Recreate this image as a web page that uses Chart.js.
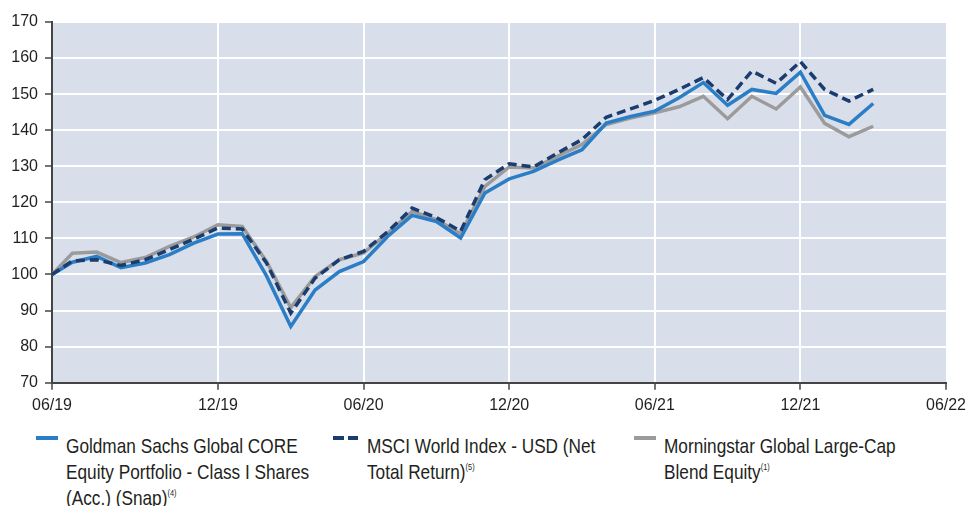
<!DOCTYPE html>
<html>
<head>
<meta charset="utf-8">
<script src="https://cdn.jsdelivr.net/npm/chart.js@4.4.1/dist/chart.umd.min.js"></script>
<style>
  html, body { margin: 0; padding: 0; background: #fff; }
  #wrap { position: relative; width: 967px; height: 506px; overflow: hidden; }
  #chart { position: absolute; left: 0; top: 0; }
  .legend-text {
    position: absolute;
    font-family: 'Liberation Sans', Arial, sans-serif;
    font-size: 21px;
    line-height: 26px;
    color: #231f20;
    white-space: nowrap;
    transform: scaleX(0.82);
    transform-origin: 0 0;
  }
  .legend-text sup { font-size: 9px; vertical-align: 9px; line-height: 0; }
  .swatch { position: absolute; height: 4px; }
</style>
</head>
<body>
<div id="wrap">
  <canvas id="chart" width="967" height="420"></canvas>

  <div class="swatch" style="left:36px; top:436px; width:22px; background:#2b7ec5;"></div>
  <div class="legend-text" style="left:66px; top:433px;">Goldman Sachs Global CORE<br>Equity Portfolio - Class I Shares<br>(Acc.) (Snap)<sup>(4)</sup></div>

  <div class="swatch" style="left:333px; top:436px; width:11px; background:#1a3c6e;"></div>
  <div class="swatch" style="left:348px; top:436px; width:10px; background:#1a3c6e;"></div>
  <div class="legend-text" style="left:367px; top:433px;">MSCI World Index - USD (Net<br>Total Return)<sup>(5)</sup></div>

  <div class="swatch" style="left:634px; top:436px; width:22px; background:#9b9b9b;"></div>
  <div class="legend-text" style="left:664px; top:433px;">Morningstar Global Large-Cap<br>Blend Equity<sup>(1)</sup></div>
</div>

<script>
// x = months after end of June 2019 (first point is the start date, a bit earlier)
const months = [-0.84, 0, 1, 2, 3, 4, 5, 6, 7, 8, 9, 10, 11, 12, 13, 14, 15, 16, 17,
                18, 19, 20, 21, 22, 23, 24, 25, 26, 27, 28, 29, 30, 31, 32, 33];

const gsCore = [100, 103.4, 105.0, 101.9, 103.2, 105.5, 108.7, 111.2, 111.3, 99.6, 85.6,
                95.7, 100.8, 103.6, 110.6, 116.4, 114.7, 110.1, 122.6, 126.5, 128.6,
                131.7, 134.6, 142.0, 143.8, 145.3, 149.0, 153.2, 146.9, 151.3, 150.2,
                156.1, 144.1, 141.6, 147.4];

const msciWorld = [100, 103.8, 104.1, 102.5, 104.1, 106.9, 109.8, 112.9, 112.6, 103.2, 89.3,
                   99.0, 104.1, 106.4, 111.9, 118.4, 115.8, 112.0, 126.3, 130.7, 129.8,
                   133.7, 137.4, 143.6, 145.9, 148.3, 151.3, 154.6, 148.5, 156.4, 153.0,
                   159.0, 151.3, 148.1, 151.3];

const mstarBlend = [100, 105.9, 106.2, 103.3, 104.7, 107.8, 110.4, 113.8, 113.3, 103.6, 90.8,
                    99.4, 104.1, 106.0, 111.5, 117.5, 115.2, 111.3, 124.4, 129.8, 129.5,
                    132.8, 136.0, 141.6, 143.4, 144.8, 146.5, 149.4, 143.2, 149.4, 145.9,
                    152.0, 141.9, 138.2, 141.1];

const xTickValues = [-0.84, 6, 12, 18, 24, 30, 36];
const xTickLabels = ['06/19', '12/19', '06/20', '12/20', '06/21', '12/21', '06/22'];

const AXIS_FONT = "'Liberation Sans', Arial, sans-serif";

const plotBackground = {
    id: 'plotBackground',
    beforeDraw(chart) {
        const { ctx, chartArea: a } = chart;
        ctx.save();
        ctx.fillStyle = '#d9dfea';
        ctx.fillRect(a.left, a.top, a.right - a.left, a.bottom - a.top);
        ctx.restore();
    }
};

const toPoints = vals => vals.map((v, i) => ({ x: months[i], y: v }));

new Chart(document.getElementById('chart'), {
    type: 'line',
    data: {
        datasets: [
            {
                label: 'MSCI World Index - USD (Net Total Return)',
                data: toPoints(msciWorld),
                borderColor: '#1a3c6e',
                borderWidth: 3.5,
                borderDash: [9, 5],
                pointRadius: 0,
                tension: 0,
                order: 0,
            },
            {
                label: 'Goldman Sachs Global CORE Equity Portfolio - Class I Shares (Acc.) (Snap)',
                data: toPoints(gsCore),
                borderColor: '#2b7ec5',
                borderWidth: 3.5,
                pointRadius: 0,
                tension: 0,
                order: 1,
            },
            {
                label: 'Morningstar Global Large-Cap Blend Equity',
                data: toPoints(mstarBlend),
                borderColor: '#9b9b9b',
                borderWidth: 3.5,
                pointRadius: 0,
                tension: 0,
                order: 2,
            },
        ],
    },
    options: {
        responsive: false,
        devicePixelRatio: 1,
        animation: false,
        parsing: false,
        layout: { padding: { top: 22, right: 21, left: 0, bottom: 0 } },
        scales: {
            x: {
                type: 'linear',
                min: xTickValues[0],
                max: xTickValues[xTickValues.length - 1],
                afterBuildTicks: scale => {
                    scale.ticks = xTickValues.map(v => ({ value: v }));
                },
                afterFit: scale => {
                    scale.height = 37.3;
                    scale.paddingLeft = 0;
                    scale.paddingRight = 0;
                },
                ticks: {
                    autoSkip: false,
                    maxRotation: 0,
                    padding: 6,
                    color: '#231f20',
                    font: { family: AXIS_FONT, size: 16 },
                    callback: value => {
                        const i = xTickValues.indexOf(value);
                        return i >= 0 ? xTickLabels[i] : '';
                    },
                },
                grid: {
                    color: ctx => {
                        const v = ctx.tick && ctx.tick.value;
                        return (v === xTickValues[0] || v === xTickValues[xTickValues.length - 1])
                            ? 'rgba(0,0,0,0)' : '#ffffff';
                    },
                    lineWidth: 2,
                    tickColor: '#444',
                    tickLength: 7,
                    tickWidth: 1.5,
                },
                border: { display: true, color: '#444', width: 2 },
            },
            y: {
                min: 70,
                max: 170,
                afterFit: scale => { scale.width = 52; },
                ticks: {
                    stepSize: 10,
                    padding: 7,
                    color: '#231f20',
                    font: { family: AXIS_FONT, size: 16 },
                },
                grid: {
                    color: '#ffffff',
                    lineWidth: 2,
                    tickColor: '#444',
                    tickLength: 7,
                    tickWidth: 1.5,
                },
                border: { display: true, color: '#444', width: 2 },
            },
        },
        plugins: {
            legend: { display: false },
            tooltip: { enabled: false },
        },
    },
    plugins: [plotBackground],
});
</script>
</body>
</html>
